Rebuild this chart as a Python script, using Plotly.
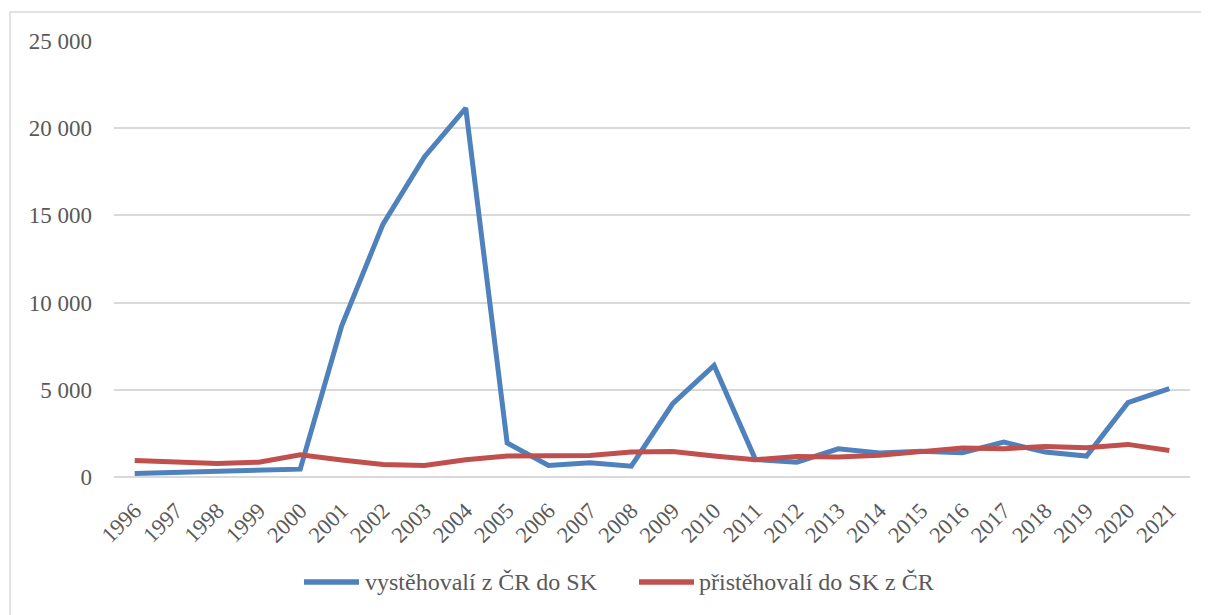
import plotly.graph_objects as go

years = [str(y) for y in range(1996, 2022)]
vystehovali = [200, 250, 350, 375, 450, 8650, 14500, 18350, 21150, 1950, 660, 815, 620, 4200,
               6400, 1000, 850, 1620, 1370, 1480, 1390, 2000, 1430, 1200, 4260, 5070]
pristehovali = [950, 840, 780, 850, 1270, 970, 720, 660, 990, 1200, 1230, 1230, 1430, 1460,
                1200, 990, 1180, 1140, 1240, 1460, 1670, 1620, 1750, 1680, 1870, 1520]
y_ticks = [0, 5000, 10000, 15000, 20000, 25000]
names = ["vystěhovalí z ČR do SK", "přistěhovalí do SK z ČR"]
colors = ["#4F81BD", "#C0504D"]

font = "'Liberation Serif', 'Times New Roman', Times, 'DejaVu Serif', serif"
grey = "#595959"

# page body has an 8px margin, so the figure is sized to the remaining viewport
W, H = 1201, 607
L, R, T, B = 106, 19, 33, 138
pw, ph = W - L - R, H - T - B


def px_x(p):  # page pixel -> paper x
    return (p - 8 - L) / pw


def px_y(p):  # page pixel -> paper y
    return (T + ph - (p - 8)) / ph


fig = go.Figure()
for vals, name, col in zip([vystehovali, pristehovali], names, colors):
    fig.add_trace(go.Scatter(x=years, y=vals, mode="lines", name=name,
                             line=dict(color=col, width=5)))

fig.update_layout(
    width=W, height=H,
    margin=dict(l=L, r=R, t=T, b=B, autoexpand=False),
    paper_bgcolor="white", plot_bgcolor="white",
    separators=", ",
    font=dict(family=font, color=grey, size=23),
    showlegend=False,
    hovermode=False,
)
fig.update_xaxes(type="category", range=[-0.5, len(years) - 0.5], tickangle=-45,
                 showgrid=False, showline=False,
                 ticks="", ticklabelstandoff=15, automargin=False,
                 tickfont=dict(family=font, size=22.5, color=grey))
fig.update_yaxes(range=[0, 25000], tickvals=y_ticks, tickformat=",d",
                 gridcolor="#d9d9d9", gridwidth=1.5, zeroline=True, zerolinecolor="#d9d9d9",
                 zerolinewidth=1.5, showline=False, ticks="", ticklabelstandoff=21,
                 automargin=False, tickfont=dict(family=font, size=23, color=grey))

# chart-area border (cropped at right/bottom in the reference)
fig.add_shape(type="rect", xref="paper", yref="paper",
              x0=px_x(10), x1=1.3, y0=-0.6, y1=px_y(12),
              line=dict(color="#d9d9d9", width=1.5), fillcolor="rgba(0,0,0,0)", layer="below")

# legend drawn below the plot: key line + label for each series
legend_keys = [(304, 359, 363), (639, 694, 697)]
for (k0, k1, tx), name, col in zip(legend_keys, names, colors):
    fig.add_shape(type="line", xref="paper", yref="paper",
                  x0=px_x(k0), x1=px_x(k1), y0=px_y(582), y1=px_y(582),
                  line=dict(color=col, width=5.5))
    fig.add_annotation(text=name, xref="paper", yref="paper", x=px_x(tx), y=px_y(582),
                       xanchor="left", yanchor="middle", showarrow=False,
                       font=dict(family=font, size=24, color=grey))

fig.write_html("out.html")
